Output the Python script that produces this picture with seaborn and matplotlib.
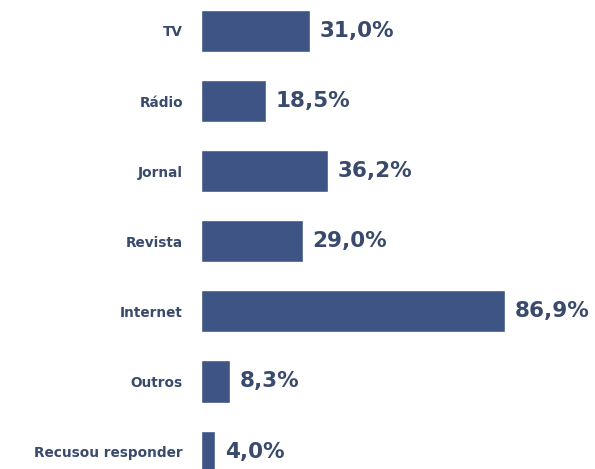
import matplotlib.pyplot as plt
import seaborn as sns
import pandas as pd

categories = ["TV", "Rádio", "Jornal", "Revista", "Internet", "Outros", "Recusou responder"]
values = [31.0, 18.5, 36.2, 29.0, 86.9, 8.3, 4.0]
value_labels = ["31,0%", "18,5%", "36,2%", "29,0%", "86,9%", "8,3%", "4,0%"]

BAR_COLOR = "#3e5484"
TEXT_COLOR = "#3a4a6c"

sns.set_style("white")
plt.rcParams["font.family"] = ["DejaVu Sans"]

df = pd.DataFrame({"categoria": categories, "valor": values})

fig = plt.figure(figsize=(5.95, 4.69), dpi=100)
ax = fig.add_axes([201 / 595, 0, 394 / 595, 1])
sns.barplot(data=df, x="valor", y="categoria", color=BAR_COLOR, width=0.6,
            saturation=1, ax=ax)

ax.set_xlim(0, 394 / 3.5)
ax.set_ylim(438 / 70.1, -31 / 70.1)
ax.set_xlabel("")
ax.set_ylabel("")
ax.set_xticks([])
ax.tick_params(axis="y", length=0, pad=13)
for lbl in ax.get_yticklabels():
    lbl.set_fontweight("bold")
    lbl.set_fontsize(9.8)
    lbl.set_color(TEXT_COLOR)
sns.despine(ax=ax, left=True, bottom=True)

ax.bar_label(ax.containers[0], labels=value_labels, padding=7,
             fontsize=15.5, fontweight="bold", color=TEXT_COLOR)

fig.savefig("out.png", dpi=100)
